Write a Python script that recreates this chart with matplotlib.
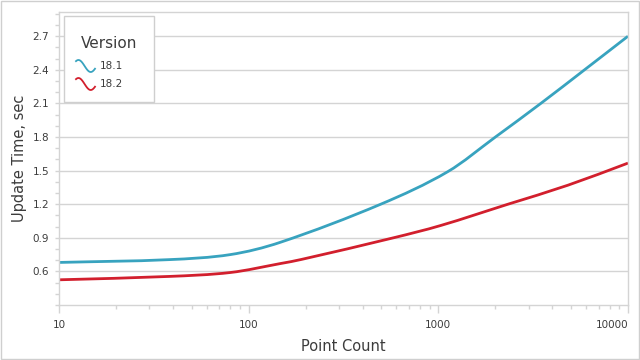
import numpy as np
import matplotlib
matplotlib.use("Agg")
import matplotlib.pyplot as plt
from matplotlib.path import Path
from matplotlib.patches import PathPatch, Rectangle
from matplotlib.lines import Line2D
from matplotlib.ticker import FixedLocator, NullFormatter, MultipleLocator

# values
points_v181 = [10, 38, 80, 147, 497, 1120, 2000, 3470, 5900, 10000]
time_v181 = [0.68, 0.705, 0.75, 0.86, 1.2, 1.49, 1.8, 2.1, 2.4, 2.7]

points_v182 = [10, 38, 80, 147, 190, 580, 1030, 2330, 4830, 10000]
time_v182 = [0.525, 0.555, 0.59, 0.67, 0.707, 0.9, 1.01, 1.2, 1.37, 1.567]

series_names = ["18.1", "18.2"]
series_colors = ["#38a3bf", "#d21f2d"]
x_ticks = [10, 100, 1000, 10000]
y_ticks = [0.6, 0.9, 1.2, 1.5, 1.8, 2.1, 2.4, 2.7]

GRID = "#d4d4d4"
TEXT = "#3c3c3c"
W, H = 640, 360


def smooth_path(xs, ys):
    """Cubic Hermite bezier through the points, in log-x space (spline series look)."""
    u = np.log10(xs)
    y = np.asarray(ys, dtype=float)
    n = len(u)
    m = np.empty(n)
    m[0] = (y[1] - y[0]) / (u[1] - u[0])
    m[-1] = (y[-1] - y[-2]) / (u[-1] - u[-2])
    for i in range(1, n - 1):
        m[i] = (y[i + 1] - y[i - 1]) / (u[i + 1] - u[i - 1])
    verts = [(u[0], y[0])]
    codes = [Path.MOVETO]
    for i in range(n - 1):
        h = (u[i + 1] - u[i]) / 3
        verts += [(u[i] + h, y[i] + h * m[i]),
                  (u[i + 1] - h, y[i + 1] - h * m[i + 1]),
                  (u[i + 1], y[i + 1])]
        codes += [Path.CURVE4] * 3
    verts = [(10 ** a, b) for a, b in verts]
    return Path(verts, codes)


def px(x, y):
    return x / W, 1 - y / H


fig = plt.figure(figsize=(6.4, 3.6), dpi=100)
fig.patch.set_facecolor("white")
fig.patches.append(Rectangle((0.001, 0.002), 0.997, 0.995, transform=fig.transFigure,
                             fill=False, edgecolor="#cfcfcf", lw=1.0))

ax = fig.add_axes([0.0922, 0.1528, 0.889, 0.815])

for xs, ys, c in [(points_v181, time_v181, series_colors[0]),
                  (points_v182, time_v182, series_colors[1])]:
    ax.add_patch(PathPatch(smooth_path(xs, ys), fill=False, edgecolor=c, lw=2.0,
                           capstyle="butt"))

ax.set_xscale("log")
ax.set_xlim(10, 10000)
ax.set_ylim(0.3, 2.92)

ax.xaxis.set_major_locator(FixedLocator(x_ticks))
ax.set_xticklabels([str(v) for v in x_ticks])
ax.get_xticklabels()[-1].set_ha("right")
ax.xaxis.set_minor_formatter(NullFormatter())
ax.yaxis.set_major_locator(FixedLocator(y_ticks))
ax.set_yticklabels([f"{v:.1f}" for v in y_ticks])
ax.yaxis.set_minor_locator(MultipleLocator(0.1))

ax.grid(axis="y", which="major", color=GRID, lw=1.0)
ax.set_axisbelow(True)

for s in ax.spines.values():
    s.set_color(GRID)
    s.set_linewidth(1.0)

ax.tick_params(axis="x", which="major", length=6, width=1, color=GRID,
               labelsize=7.5, labelcolor=TEXT, pad=5)
ax.tick_params(axis="x", which="minor", length=3, width=1, color=GRID)
ax.tick_params(axis="y", which="major", length=3, width=1, color=GRID,
               labelsize=7.5, labelcolor=TEXT, pad=4)
ax.tick_params(axis="y", which="minor", length=3, width=1, color=GRID)

ax.set_xlabel("Point Count", fontsize=10.5, color=TEXT, labelpad=6)
ax.set_ylabel("Update Time, sec", fontsize=10.5, color=TEXT, labelpad=4)

# legend box drawn by hand to match the reference layout
x0, y0 = px(64, 102)
x1, y1 = px(154, 16)
fig.patches.append(Rectangle((x0, y0), x1 - x0, y1 - y0, transform=fig.transFigure,
                             facecolor="white", edgecolor="#cfcfcf", lw=1.0, zorder=5))
fig.text(*px(109.5, 43), "Version", fontsize=11, color=TEXT,
         ha="center", va="center", zorder=6)
theta = np.linspace(0.3 * np.pi, 1.85 * np.pi, 40)
for k, (name, c) in enumerate(zip(series_names, series_colors)):
    cy = 66 + 18 * k
    ix = 76 + (theta - theta[0]) / (theta[-1] - theta[0]) * 19
    iy = cy - np.sin(theta) * 6
    fx, fy = px(ix, iy)
    fig.add_artist(Line2D(fx, fy, color=c, lw=1.3, transform=fig.transFigure, zorder=6))
    fig.text(*px(100, cy), name, fontsize=7.5, color=TEXT, ha="left", va="center", zorder=6)

fig.savefig("out.png", dpi=100, facecolor="white")
